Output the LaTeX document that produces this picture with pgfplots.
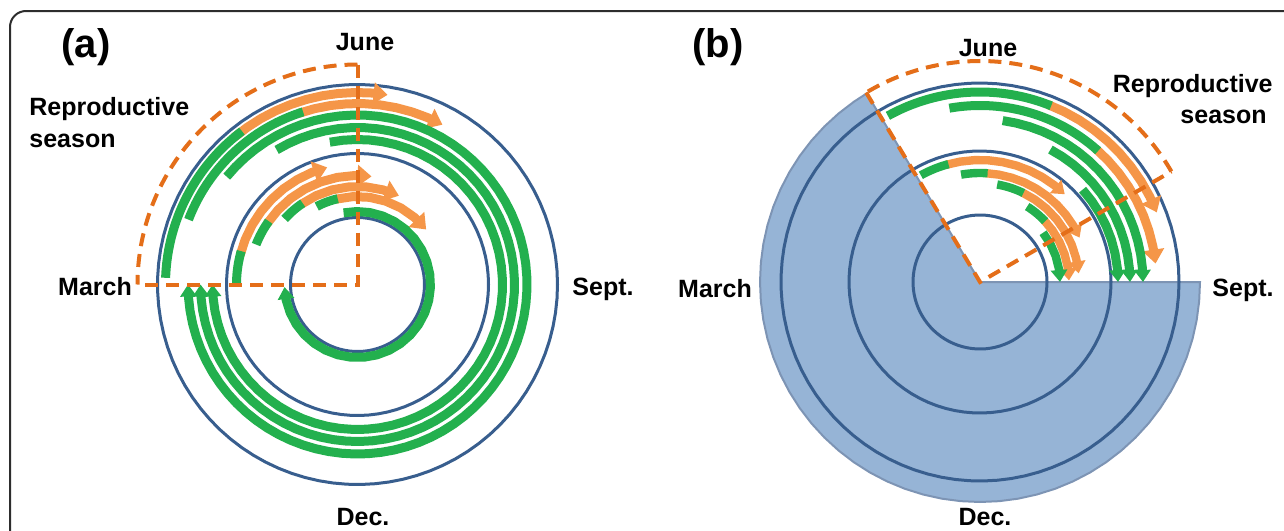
\documentclass[border=0pt]{standalone}
\usepackage{fontspec}
\setmainfont{Liberation Sans}
\usepackage{pgfplots}
\pgfplotsset{compat=1.18}
\usetikzlibrary{arrows.meta}
\definecolor{cgreen}{RGB}{35,176,78}
\definecolor{corange}{RGB}{245,150,72}
\definecolor{cdash}{RGB}{228,110,25}
\definecolor{cblue}{RGB}{56,94,142}
\definecolor{cfill}{RGB}{150,180,214}
\definecolor{cedge}{RGB}{125,148,180}
\definecolor{cframe}{RGB}{45,45,45}
\tikzset{
  grn/.style={draw=cgreen, line width=4.5pt},
  org/.style={draw=corange, line width=4.5pt},
  ga/.style={{Triangle[width=8pt,length=6pt]}-},
  oa/.style={{Triangle[width=10.5pt,length=7pt]}-},
  oas/.style={{Triangle[width=8.5pt,length=6pt]}-},
  circ/.style={draw=cblue, line width=1.5pt},
  dsh/.style={draw=cdash, line width=2pt, dash pattern=on 6.5pt off 4pt},
  lab/.style={font=\fontsize{12.5}{15}\selectfont\bfseries, inner sep=0pt},
}
\pgfplotsset{
  panel/.style={x=0.5pt, y=0.5pt, xmin=-230, xmax=230, ymin=-230, ymax=230,
    hide axis, clip=false, anchor=center, samples=90, data cs=polar, no markers},
}
\begin{document}
\begin{tikzpicture}
\useasboundingbox (0pt,0pt) rectangle (642pt,-265pt);
\clip (0pt,0pt) rectangle (642pt,-265pt);
\draw[cframe, line width=1pt, rounded corners=8pt] (660pt,-5.5pt) -- (5pt,-5.5pt) -- (5pt,-280pt);

% ---------------- panel (a) ----------------
\begin{axis}[panel, at={(178.75pt,-142.25pt)}]
\addplot[circ, domain=0:360] {67};
\addplot[circ, domain=0:360] {131};
\addplot[circ, domain=0:360] {200};
% outer ring
\addplot[org, oa, domain=81:130, samples=11] {192};
\addplot[grn, domain=127:178] {192};
\addplot[org, oa, domain=62:109, samples=10] {181};
\addplot[grn, domain=107.5:159] {181};
\addplot[grn, ga, domain=-180:140.5, samples=73] {169.5};
\addplot[grn, ga, domain=-180:121, samples=64] {157};
\addplot[grn, ga, domain=-180:101, samples=55] {145};
% inner ring
\addplot[org, oa, domain=104.5:166, samples=9] {121};
\addplot[grn, domain=164:180] {121};
\addplot[org, oa, domain=82.6:146, samples=8] {109};
\addplot[grn, domain=144.5:158.5] {109};
\addplot[org, oa, domain=65:125, samples=7] {98};
\addplot[grn, domain=124:138] {98};
\addplot[org, oa, domain=38.7:104, samples=7] {88};
\addplot[grn, domain=103:117.6] {88};
\addplot[grn, ga, domain=-178:101, samples=28] {73};
% reproductive season
\addplot[dsh, domain=90:180] {220};
\addplot[dsh] coordinates {(90,220) (0,0) (180,220)};
\end{axis}

% ---------------- panel (b) ----------------
\begin{axis}[panel, at={(490pt,-141pt)}]
\addplot[fill=cfill, draw=cedge, line width=1pt] coordinates {(0,0) (121,220) (125,220) (130,220) (135,220) (140,220) (145,220) (150,220) (155,220) (160,220) (165,220) (170,220) (175,220) (180,220) (185,220) (190,220) (195,220) (200,220) (205,220) (210,220) (215,220) (220,220) (225,220) (230,220) (235,220) (240,220) (245,220) (250,220) (255,220) (260,220) (265,220) (270,220) (275,220) (280,220) (285,220) (290,220) (295,220) (300,220) (305,220) (310,220) (315,220) (320,220) (325,220) (330,220) (335,220) (340,220) (345,220) (350,220) (355,220) (360,220) (0,0)};
\addplot[circ, domain=0:360] {67};
\addplot[circ, domain=0:360] {131};
\addplot[circ, domain=0:360] {199};
% outer ring
\addplot[org, oa, domain=21.5:69, samples=10] {190};
\addplot[grn, domain=68:119] {190};
\addplot[org, oa, domain=6:49, samples=9] {176.5};
\addplot[grn, domain=48:100] {176.5};
\addplot[grn, ga, domain=0:82, samples=18] {163};
\addplot[grn, ga, domain=0:62, samples=13] {150};
\addplot[grn, ga, domain=0:42, samples=8] {138};
% inner ring
\addplot[org, oas, line width=4.2pt, domain=46:106, samples=10] {122};
\addplot[grn, line width=4.2pt, domain=105:119] {122};
\addplot[org, oas, line width=4.2pt, domain=24:87, samples=10] {109};
\addplot[grn, line width=4.2pt, domain=86:100] {109};
\addplot[org, oas, line width=4.2pt, domain=5:65, samples=8] {99};
\addplot[grn, line width=4.2pt, domain=64:80] {99};
\addplot[org, oas, line width=4.2pt, domain=1:44, samples=6] {89};
\addplot[grn, line width=4.2pt, domain=43:58] {89};
\addplot[grn, ga, line width=4.2pt, domain=0:38, samples=5] {80};
% reproductive season
\addplot[dsh, domain=30:121] {221};
\addplot[dsh] coordinates {(121,221) (0,0) (30,221)};
\end{axis}

% ---------------- labels ----------------
\node[lab, font=\fontsize{20}{22}\selectfont\bfseries, anchor=base] at (43pt,-28.5pt) {(a)};
\node[lab, anchor=base] at (182.5pt,-25pt) {June};
\node[lab, anchor=base west] at (14.5pt,-57.5pt) {Reproductive};
\node[lab, anchor=base west] at (14.5pt,-73.5pt) {season};
\node[lab, anchor=base] at (47.5pt,-147.5pt) {March};
\node[lab, anchor=base] at (301.5pt,-147.5pt) {Sept.};
\node[lab, anchor=base] at (181.5pt,-262.8pt) {Dec.};

\node[lab, font=\fontsize{20}{22}\selectfont\bfseries, anchor=base] at (359pt,-28.5pt) {(b)};
\node[lab, anchor=base] at (494pt,-28pt) {June};
\node[lab, anchor=base east] at (636.5pt,-46pt) {Reproductive};
\node[lab, anchor=base east] at (633.5pt,-61.5pt) {season};
\node[lab, anchor=base] at (357.5pt,-148.5pt) {March};
\node[lab, anchor=base] at (621.5pt,-148pt) {Sept.};
\node[lab, anchor=base] at (492.5pt,-262.8pt) {Dec.};
\end{tikzpicture}
\end{document}
